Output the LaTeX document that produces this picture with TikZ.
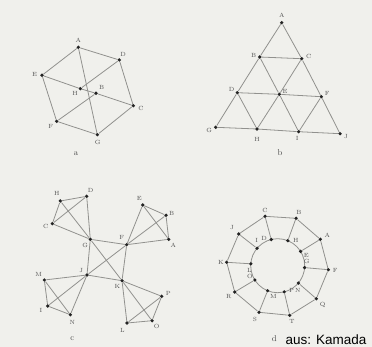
\documentclass[tikz,border=0pt]{standalone}
\usepackage{fontspec}
\newfontfamily\arialfont{Liberation Sans}
\definecolor{bg}{RGB}{240,240,236}
\definecolor{edgecol}{RGB}{145,145,142}
\definecolor{dotcol}{RGB}{35,35,35}
\definecolor{labcol}{RGB}{80,80,80}
\pgfdeclarelayer{bgfill}
\pgfdeclarelayer{edges}
\pgfsetlayers{bgfill,edges,main}
\tikzset{
  dot/.style={circle,fill=dotcol,inner sep=0pt,minimum size=3.6pt},
  lab/.style={font=\fontsize{6}{7}\selectfont,text=labcol,inner sep=0pt},
  sublab/.style={font=\fontsize{8.5}{9}\selectfont,text=labcol,inner sep=0pt},
  ed/.style={draw=edgecol,line width=0.8pt}
}
\newcommand\vx[6]{\node[dot] (#1) at (#2,#3) {}; \node[lab] (#1l) at (#5,#6) {#4};}
\newcommand\edgelist[1]{\begin{pgfonlayer}{edges}\foreach \u/\v in {#1} \draw[ed] (\u) -- (\v);\end{pgfonlayer}}
\begin{document}
\begin{tikzpicture}[x=1pt,y=-1pt]
\begin{pgfonlayer}{bgfill}
\fill[bg] (0,0) rectangle (372,347);
\end{pgfonlayer}
\useasboundingbox (0,0) rectangle (372,347);
% ---------- graph a
\vx{aA}{78.3}{47.3}{A}{78.3}{40}
\vx{aD}{119.3}{60}{D}{123}{54}
\vx{aE}{42}{75.3}{E}{34.5}{74}
\vx{aH}{80.3}{88.7}{H}{75}{93.3}
\vx{aB}{96}{93.3}{B}{101.7}{87.3}
\vx{aC}{133.3}{105.7}{C}{141}{108.3}
\vx{aF}{56.7}{121.3}{F}{50.7}{126.7}
\vx{aG}{97.3}{134.7}{G}{97.7}{142.7}
\node[sublab] (alab) at (76,154) {a};
\edgelist{aA/aD,aA/aE,aA/aG,aD/aC,aE/aF,aF/aG,aG/aC,aE/aH,aH/aD,aH/aB,aB/aC,aB/aF}
% ---------- graph b
\vx{bA}{281.7}{22.7}{A}{281.7}{15}
\vx{bB}{259.7}{57}{B}{253.7}{55}
\vx{bC}{301.7}{58.7}{C}{308.7}{56.7}
\vx{bD}{237.3}{92.7}{D}{231.7}{89.3}
\vx{bE}{279.3}{94.3}{E}{285}{91.7}
\vx{bF}{321.3}{96.7}{F}{327.3}{93.7}
\vx{bG}{215.7}{127.3}{G}{209.3}{130.7}
\vx{bH}{257}{129}{H}{257}{139.3}
\vx{bI}{298.7}{131.7}{I}{297.3}{138.7}
\vx{bJ}{340}{133.7}{J}{346}{137}
\node[sublab] (blab) at (280,152.7) {b};
\edgelist{bA/bB,bA/bC,bB/bC,bB/bD,bB/bE,bC/bE,bC/bF,bD/bE,bE/bF,bD/bG,bD/bH,bE/bH,bE/bI,bF/bI,bF/bJ,bG/bH,bH/bI,bI/bJ}
% ---------- graph c
\vx{cH}{60.3}{201}{H}{56.7}{193.3}
\vx{cD}{86.7}{196.3}{D}{90.7}{190.7}
\vx{cC}{52.3}{223.7}{C}{45.7}{226}
\vx{cG}{90.3}{239.3}{G}{85.3}{245}
\vx{cE}{142.7}{205}{E}{139.3}{198}
\vx{cB}{166}{215.3}{B}{171.7}{213.3}
\vx{cA}{168.7}{239.3}{A}{173.3}{245.3}
\vx{cF}{126.7}{244.7}{F}{121.7}{237.3}
\vx{cJ}{87}{275}{J}{81.3}{270.7}
\vx{cK}{122}{280.7}{K}{117.3}{286.3}
\vx{cM}{44.3}{280}{M}{38.7}{274.7}
\vx{cI}{47.7}{306}{I}{41}{310}
\vx{cN}{70.3}{314.7}{N}{72.3}{322}
\vx{cP}{161.7}{296.3}{P}{168.3}{293}
\vx{cL}{127}{323}{L}{122.3}{330.7}
\vx{cO}{152}{320.7}{O}{156.7}{326.3}
\node[sublab] (clab) at (72.3,338.3) {c};
\edgelist{cH/cD,cH/cC,cC/cD,cH/cG,cC/cG,cD/cG,cG/cF,cG/cK,cG/cJ,cF/cE,cF/cB,cF/cA,cE/cB,cE/cA,cB/cA,cF/cJ,cF/cK,cJ/cK,cJ/cM,cJ/cI,cJ/cN,cM/cI,cM/cN,cI/cN,cK/cP,cK/cL,cK/cO,cP/cL,cP/cO,cL/cO}
% ---------- graph d
\coordinate (dctr) at (277.7,265.7);
\begin{pgfonlayer}{edges}
\draw[ed] (dctr) circle[radius=27pt];
\end{pgfonlayer}
\vx{dC}{265}{216.3}{C}{265}{210}
\vx{dB}{296}{218.3}{B}{299}{212.3}
\vx{dJ}{238.7}{234}{J}{232}{227.3}
\vx{dA}{320.3}{239.3}{A}{327.3}{235.3}
\vx{dK}{226.7}{262.3}{K}{221}{262.3}
\vx{dF}{328.3}{269.7}{F}{335.3}{270}
\vx{dR}{234.7}{292}{R}{228.7}{296.7}
\vx{dQ}{316.3}{298.7}{Q}{322.7}{304.7}
\vx{dS}{259}{312.3}{S}{255}{319.7}
\vx{dT}{289.7}{315.3}{T}{292}{321.3}
\vx{dL}{250.8}{263.8}{L}{249.3}{270}
\vx{dI}{257.0}{248.3}{I}{256.7}{240}
\vx{dD}{271.2}{239.5}{D}{264}{238.3}
\vx{dH}{287.8}{240.7}{H}{295.7}{240.5}
\vx{dE}{300.6}{251.4}{E}{306.3}{255}
\vx{dG}{304.6}{267.6}{G}{306.7}{261.5}
\vx{dN}{298.4}{283.1}{N}{297.7}{290}
\vx{dP}{284.2}{291.9}{P}{291.5}{290.7}
\vx{dM}{267.6}{290.7}{M}{273.3}{296.7}
\vx{dO}{254.8}{280.0}{O}{250}{276.5}
\edgelist{dC/dB,dB/dA,dA/dF,dF/dQ,dQ/dT,dT/dS,dS/dR,dR/dK,dK/dJ,dJ/dC,dC/dD,dB/dH,dA/dE,dF/dG,dQ/dN,dT/dP,dS/dM,dR/dO,dK/dL,dJ/dI}
\node[sublab] (dlab) at (274.3,339) {d};
\node[font=\arialfont\fontsize{13.5}{15}\selectfont,text=black,inner sep=0pt,anchor=base west] (src) at (285.5,344) {aus: Kamada};
\end{tikzpicture}
\end{document}
